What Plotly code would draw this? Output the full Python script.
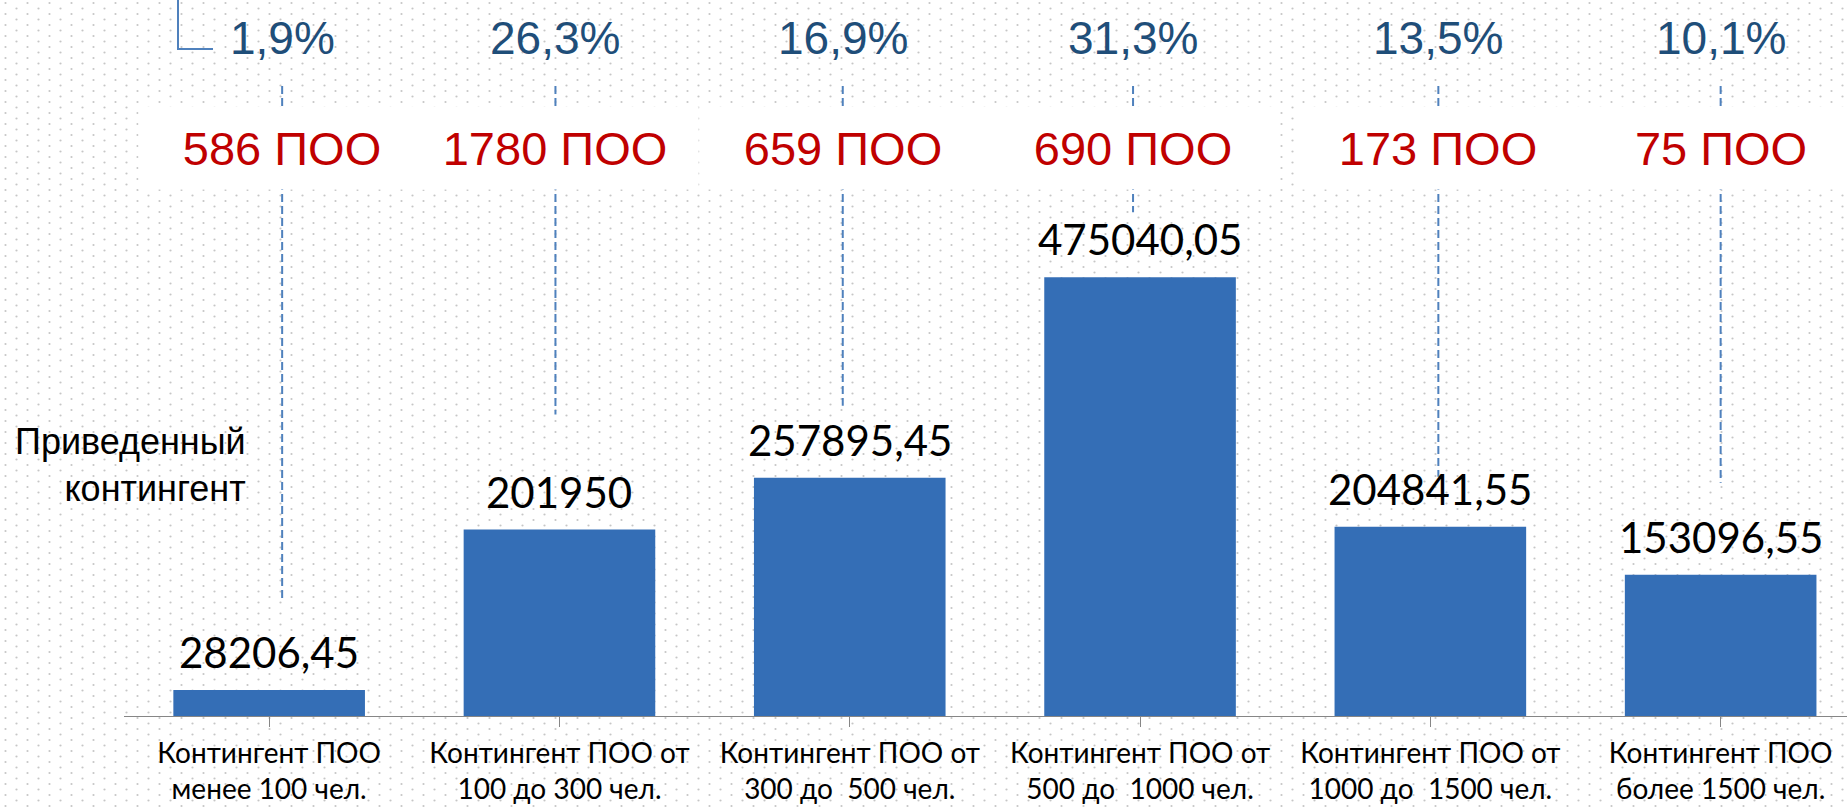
import base64
import plotly.graph_objects as go

# ---------------- data ----------------
categories = [
    "Контингент ПОО<br>менее 100 чел.",
    "Контингент ПОО от<br>100 до 300 чел.",
    "Контингент ПОО от<br>300 до  500 чел.",
    "Контингент ПОО от<br>500 до  1000 чел.",
    "Контингент ПОО от<br>1000 до  1500 чел.",
    "Контингент ПОО<br>более 1500 чел.",
]
values = [28206.45, 201950, 257895.45, 475040.05, 204841.55, 153096.55]
shares = ["1,9%", "26,3%", "16,9%", "31,3%", "13,5%", "10,1%"]
org_counts = ["586 ПОО", "1780 ПОО", "659 ПОО", "690 ПОО", "173 ПОО", "75 ПОО"]
ylabel = "Приведенный<br>контингент"

# ---------------- layout constants ----------------
W, H = 1847, 810
ML, MB = 124, 94
PW, PH = W - ML, H - MB
CAT_PX = 290.3
YMAX = PH * 1083.0
UNIT_PER_PX = YMAX / PH
label_dx = [13, -4, -7, -7, 8, 0]          # px offsets of leader/labels
leader_gap_px = [89, 115, 72, 65, 50, 92]  # px above bar top where leader ends
BLUE_DARK = "#1F4E79"
RED = "#C00000"
LEADER = "#4F81BD"


def fmt(v):
    if float(v).is_integer():
        return str(int(v))
    return f"{v:.2f}".replace(".", ",")


x = list(range(len(categories)))

fig = go.Figure()
fig.add_trace(go.Bar(
    x=x, y=values,
    marker=dict(color="#346EB6", line=dict(width=0)),
    width=0.66,
    hoverinfo="skip",
))

annotations = []
shapes = []
for i, v in enumerate(values):
    # value label above bar
    annotations.append(dict(
        x=i, y=v, xref="x", yref="y", text=fmt(v), showarrow=False,
        yanchor="bottom", yshift=11,
        font=dict(family="Lato, 'Open Sans', sans-serif", size=42, color="#000000"),
    ))
    # percent label
    annotations.append(dict(
        x=i, y=1 - 38 / PH, xref="x", yref="paper", text=shares[i], showarrow=False,
        xshift=label_dx[i], yanchor="middle",
        font=dict(family="Liberation Sans, Arial, sans-serif", size=46, color=BLUE_DARK),
    ))
    # count label on white box
    annotations.append(dict(
        x=i, y=1 - 148 / PH, xref="x", yref="paper", text=org_counts[i], showarrow=False,
        xshift=label_dx[i], yanchor="middle", bgcolor="#FFFFFF",
        width=284, height=80,
        font=dict(family="Liberation Sans, Arial, sans-serif", size=47, color=RED),
    ))
    # dashed leader line
    xs = i + label_dx[i] / CAT_PX
    shapes.append(dict(
        type="line", xref="x", yref="y",
        x0=xs, x1=xs,
        y0=YMAX * (1 - 86 / PH),
        y1=v + leader_gap_px[i] * UNIT_PER_PX,
        line=dict(color=LEADER, width=2, dash="8px,4px"),
        layer="above",
    ))

# y caption
annotations.append(dict(
    x=(248 - ML) / PW, y=1 - 465 / PH, xref="paper", yref="paper",
    text=ylabel, showarrow=False, xanchor="right", yanchor="middle", align="right",
    font=dict(family="Liberation Sans, Arial, sans-serif", size=36, color="#000000"),
))

# small bracket at top-left
bx0 = (178 - ML) / PW
bx1 = (213 - ML) / PW
by = 1 - 49 / PH
shapes.append(dict(
    type="path", xref="paper", yref="paper",
    path=f"M {bx0},1 L {bx0},{by} L {bx1},{by}",
    line=dict(color=LEADER, width=2),
))

# dotted background
svg = (
    f'<svg xmlns="http://www.w3.org/2000/svg" width="{W}" height="{H}">'
    '<defs><pattern id="p" width="22" height="11" patternUnits="userSpaceOnUse">'
    '<circle cx="5.5" cy="3" r="1.1" fill="#c6c6c6"/>'
    '<circle cx="16.5" cy="8.5" r="1.1" fill="#c6c6c6"/>'
    '</pattern></defs>'
    '<rect width="100%" height="100%" fill="url(#p)"/></svg>'
)
src = "data:image/svg+xml;base64," + base64.b64encode(svg.encode()).decode()

fig.update_layout(
    width=W, height=H,
    margin=dict(l=ML, r=0, t=0, b=MB, pad=0, autoexpand=False),
    paper_bgcolor="#FFFFFF",
    plot_bgcolor="rgba(0,0,0,0)",
    showlegend=False,
    annotations=annotations,
    shapes=shapes,
    images=[dict(
        source=src, xref="paper", yref="paper",
        x=-ML / PW, y=1, sizex=W / PW, sizey=H / PH,
        xanchor="left", yanchor="top", sizing="stretch", layer="below",
    )],
)
fig.update_xaxes(
    automargin=False,
    range=[-0.5, -0.5 + PW / CAT_PX],
    tickmode="array", tickvals=x, ticktext=categories,
    tickson="boundaries", ticks="outside", ticklen=10, tickcolor="#868686", tickwidth=1,
    showline=True, linecolor="#868686", linewidth=1.3,
    showgrid=False, zeroline=False,
    ticklabelstandoff=2,
    tickfont=dict(family="Lato, 'Open Sans', sans-serif", size=28, color="#000000"),
    fixedrange=True,
)
fig.update_yaxes(
    automargin=False,
    range=[0, YMAX], visible=False, showgrid=False, zeroline=False, fixedrange=True,
)

fig.write_html(
    "out.html",
    config=dict(displayModeBar=False),
    post_script="document.body.style.margin='0';document.body.style.overflow='hidden';",
)
